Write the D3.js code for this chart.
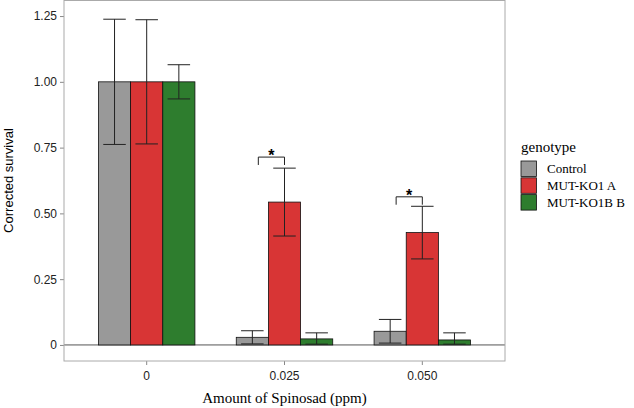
<!DOCTYPE html>
<html>
<head>
<meta charset="utf-8">
<script src="https://cdn.jsdelivr.net/npm/d3@7"></script>
<style>
  body { margin: 0; background: #fff; }
  svg { display: block; }
</style>
</head>
<body>
<div id="chart"></div>
<script>
// doses (x categories) and genotypes
var doses = ["0", "0.025", "0.050"];
var genotypes = ["Control", "MUT-KO1 A", "MUT-KO1B B"];
var colors = ["#999999", "#d83535", "#2e7d2e"];

// mean corrected survival per genotype, one value per dose
var controlMean = [1.00, 0.029, 0.052];
var mutAMean    = [1.00, 0.543, 0.427];
var mutBMean    = [1.00, 0.023, 0.019];
// error (half width)
var controlErr = [0.238, 0.025, 0.045];
var mutAErr    = [0.236, 0.129, 0.100];
var mutBErr    = [0.065, 0.023, 0.027];

var yTicks = [0, 0.25, 0.5, 0.75, 1.0, 1.25];
var yTickLabels = ["0", "0.25", "0.50", "0.75", "1.00", "1.25"];

// significance brackets
var sigDose = ["0.025", "0.050"];
var sigY = [0.714, 0.563];
var sigFrom = [-0.19, -0.19];
var sigTo = [0, 0];
var sigLabel = ["*", "*"];

var W = 634, H = 408;
var m = {left: 64, right: 129, top: 0, bottom: 47};

var svg = d3.select('#chart').append('svg')
  .attr('width', W)
  .attr('height', H);

var x0 = d3.scaleBand().domain(doses)
  .range([m.left, W - m.right])
  .paddingInner(0.3).paddingOuter(0.25);
var x1 = d3.scaleBand().domain(genotypes)
  .range([0, x0.bandwidth()]);
var y = d3.scaleLinear().domain([-0.061, 1.311])
  .range([H - m.bottom, m.top]);

var means = [controlMean, mutAMean, mutBMean];
var errs = [controlErr, mutAErr, mutBErr];
var data = [];
genotypes.forEach(function(g, gi) {
  doses.forEach(function(d, di) {
    data.push({dose: d, g: g, gi: gi, v: means[gi][di], e: errs[gi][di]});
  });
});

// y axis ticks + labels
var yAxis = svg.append('g')
  .attr('transform', 'translate(' + m.left + ',0)')
  .call(d3.axisLeft(y).tickValues(yTicks)
    .tickFormat(function(d, i) { return yTickLabels[i]; })
    .tickSize(4).tickPadding(3));
yAxis.select('.domain').remove();
yAxis.selectAll('line').attr('stroke', '#888');
yAxis.selectAll('text')
  .attr('font-family', 'Liberation Sans, Arial, sans-serif')
  .attr('font-size', 12).attr('fill', '#222');

// x axis ticks + labels
var xAxis = svg.append('g')
  .attr('transform', 'translate(0,' + (H - m.bottom) + ')')
  .call(d3.axisBottom(x0).tickSize(4).tickPadding(6));
xAxis.select('.domain').remove();
xAxis.selectAll('line').attr('stroke', '#888');
xAxis.selectAll('text')
  .attr('font-family', 'Liberation Sans, Arial, sans-serif')
  .attr('font-size', 12).attr('fill', '#222');

// zero line
svg.append('line')
  .attr('x1', m.left).attr('x2', W - m.right)
  .attr('y1', y(0)).attr('y2', y(0))
  .attr('stroke', '#555').attr('stroke-width', 1);

// bars
svg.selectAll('rect.bar').data(data)
  .enter().append('rect')
  .attr('class', 'bar')
  .attr('x', function(d) { return x0(d.dose) + x1(d.g); })
  .attr('y', function(d) { return y(d.v); })
  .attr('width', x1.bandwidth())
  .attr('height', function(d) { return y(0) - y(d.v); })
  .attr('fill', function(d) { return colors[d.gi]; })
  .attr('stroke', '#111').attr('stroke-width', 0.8);

// error bars
var cap = x1.bandwidth() * 0.35;
var eb = svg.selectAll('g.err').data(data)
  .enter().append('g').attr('class', 'err')
  .attr('stroke', '#222').attr('stroke-width', 1);
eb.append('line')
  .attr('x1', function(d) { return x0(d.dose) + x1(d.g) + x1.bandwidth() / 2; })
  .attr('x2', function(d) { return x0(d.dose) + x1(d.g) + x1.bandwidth() / 2; })
  .attr('y1', function(d) { return y(d.v + d.e); })
  .attr('y2', function(d) { return y(Math.max(d.v - d.e, 0.003)); });
[1, -1].forEach(function(s) {
  eb.append('line')
    .attr('x1', function(d) { return x0(d.dose) + x1(d.g) + x1.bandwidth() / 2 - cap; })
    .attr('x2', function(d) { return x0(d.dose) + x1(d.g) + x1.bandwidth() / 2 + cap; })
    .attr('y1', function(d) { return y(s > 0 ? d.v + d.e : Math.max(d.v - d.e, 0.003)); })
    .attr('y2', function(d) { return y(s > 0 ? d.v + d.e : Math.max(d.v - d.e, 0.003)); });
});

// significance brackets
var step = x0.step();
var tip = 0.03;
sigDose.forEach(function(d, i) {
  var cx = x0(d) + x0.bandwidth() / 2;
  var xa = cx + sigFrom[i] * step, xb = cx + sigTo[i] * step;
  svg.append('path')
    .attr('d', 'M' + xa + ',' + y(sigY[i] - tip) + 'V' + y(sigY[i]) + 'H' + xb + 'V' + y(sigY[i] - tip))
    .attr('fill', 'none').attr('stroke', '#222').attr('stroke-width', 1);
  svg.append('text')
    .attr('x', (xa + xb) / 2).attr('y', y(sigY[i]) + 4)
    .attr('text-anchor', 'middle')
    .attr('font-family', 'Liberation Sans, Arial, sans-serif')
    .attr('font-size', 16).attr('font-weight', 'bold')
    .text(sigLabel[i]);
});

// panel border
svg.append('rect')
  .attr('x', m.left).attr('y', m.top + 0.5)
  .attr('width', W - m.right - m.left)
  .attr('height', H - m.bottom - m.top - 0.5)
  .attr('fill', 'none').attr('stroke', '#aaa').attr('stroke-width', 1);

// axis titles
svg.append('text')
  .attr('x', (m.left + W - m.right) / 2).attr('y', 403)
  .attr('text-anchor', 'middle')
  .attr('font-family', 'Liberation Serif, Times New Roman, serif')
  .attr('font-size', 15)
  .text('Amount of Spinosad (ppm)');
svg.append('text')
  .attr('transform', 'translate(13,' + ((m.top + H - m.bottom) / 2) + ') rotate(-90)')
  .attr('text-anchor', 'middle')
  .attr('font-family', 'Liberation Sans, Arial, sans-serif')
  .attr('font-size', 13)
  .text('Corrected survival');

// legend
var lg = svg.append('g').attr('transform', 'translate(521,0)');
lg.append('text').attr('x', 0).attr('y', 152)
  .attr('font-family', 'Liberation Serif, Times New Roman, serif')
  .attr('font-size', 15).text('genotype');
var items = lg.selectAll('g.item').data(genotypes)
  .enter().append('g').attr('class', 'item')
  .attr('transform', function(d, i) { return 'translate(0,' + (161 + i * 16.8) + ')'; });
items.append('rect')
  .attr('width', 15.5).attr('height', 15.5)
  .attr('fill', function(d, i) { return colors[i]; })
  .attr('stroke', '#111').attr('stroke-width', 0.8);
items.append('text')
  .attr('x', 26).attr('y', 12)
  .attr('font-family', 'Liberation Serif, Times New Roman, serif')
  .attr('font-size', 13)
  .text(function(d) { return d; });
</script>
</body>
</html>
